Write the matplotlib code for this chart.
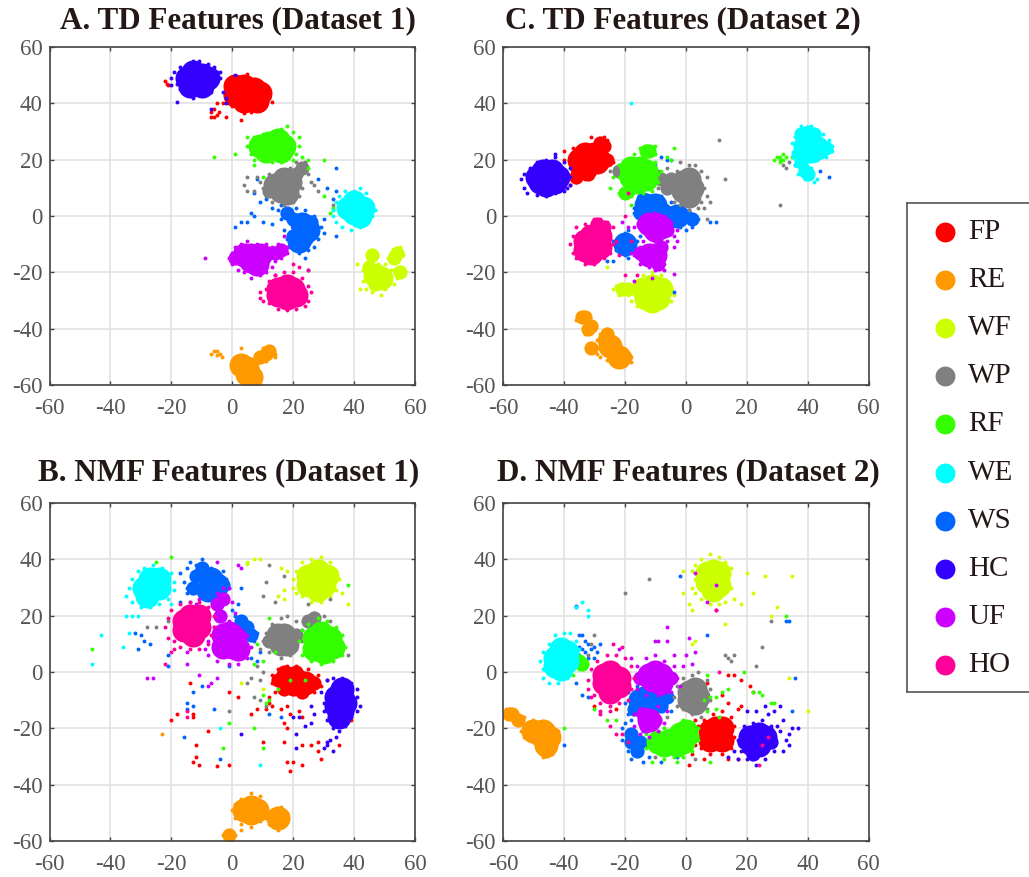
import matplotlib
matplotlib.use('Agg')
import matplotlib.pyplot as plt

labels = ['FP', 'RE', 'WF', 'WP', 'RF', 'WE', 'WS', 'HC', 'UF', 'HO']
colors = ['#ff0000', '#ff9900', '#ccff00', '#808080', '#33ff00',
          '#00ffff', '#0066ff', '#3300ff', '#cc00ff', '#ff0099']
ticks = [-60, -40, -20, 0, 20, 40, 60]

# panel A, values: core = dense part, lobe = small dense part, dots = edge and strays
a_fp_core = [(1, 43), (4, 46), (7, 45), (4, 41), (8, 41), (1, 46), (5, 43.5), (9, 43.5)]
a_fp_dots = [(-2, 44), (-1, 47), (1, 48), (3, 49), (5, 50.5), (7, 48), (9, 47), (11, 45), (12, 42), (13, 40.5), (10, 39),
             (8, 38), (6, 37), (4, 36.5), (2, 38), (0, 39), (-1, 41), (-7, 37), (-6, 35), (-5, 36), (-7, 35), (-6, 38),
             (-4.5, 37), (-3, 40), (-5, 40), (-2, 35), (-22, 48), (-21.5, 47), (-21, 46.5), (3, 34)]
a_re_core = [(3, -53), (5, -54), (5, -56), (6, -57)]
a_re_lobe = [(11, -49), (9, -50), (12, -48)]
a_re_dots = [(-7, -49), (-6, -48), (-5, -48), (-4, -49), (-3.5, -50), (-5, -49.5), (1, -52), (0, -53), (1, -50), (2, -56), (4, -59), (6, -60),
             (8, -60), (9, -57), (9, -52), (9, -49), (10, -47), (13, -47), (14, -49), (14, -50), (11, -51.5), (3, -47)]
a_wf_core = [(47, -21), (49, -22)]
a_wf_lobe = [(45, -18), (47, -24), (54, -13), (53, -15), (55, -20), (46, -14)]
a_wf_dots = [(41, -17), (43, -19), (43, -23), (42, -26), (44, -26), (46, -27), (49, -28), (50, -26), (51, -22), (52, -19), (50, -17), (46, -15),
             (45, -14), (47, -14), (51, -15), (52, -13), (55, -11), (56, -14), (55, -18), (56, -20), (54, -22), (53, -19), (53, -24), (48, -17)]
a_wp_core = [(14, 11), (17, 13), (19, 12), (16, 9), (18, 8)]
a_wp_lobe = [(23, 17), (21, 15), (12, 9)]
a_wp_dots = [(10, 10), (9, 12), (8, 14), (5, 14), (5, 9), (7, 9), (11, 7), (13, 5), (17, 4), (20, 5), (22, 7), (23, 10), (26, 12), (27, 11),
             (25, 15), (24, 19), (21, 19), (19, 17), (15, 16), (12, 15), (33, 4), (28, 9), (4, 11)]
a_rf_core = [(9, 25), (12, 26), (15, 27), (17, 25), (14, 24), (11, 23), (16, 23)]
a_rf_dots = [(5, 25), (5, 28), (7, 28), (10, 29), (13, 30), (16, 31), (18, 32), (20, 30), (22, 28), (22, 25), (21, 22), (23, 21), (25, 20), (20, 20),
             (16, 19), (13, 19), (10, 20), (7, 20), (6, 22), (7, 18), (1, 22), (-6, 21), (30, 20), (10, 14), (25, 17), (30, 7), (33, 3), (32, 1), (33, 2)]
a_we_core = [(38, 3), (40, 5), (43, 3), (40, 1), (42, 0)]
a_we_dots = [(33, 2), (34, 5), (35, 7), (37, 9), (40, 9), (42, 10), (44, 8), (45, 5), (46, 2), (47, 2), (46, 0), (44, -3), (42, -4), (39, -5), (36, -4), (34, -2), (33, 0)]
a_ws_core = [(23, -3), (25, -5), (23, -7), (22, -9)]
a_ws_lobe = [(18, 1), (20, -1), (26, -2), (20, -7)]
a_ws_dots = [(16, -1), (15, 2), (13, 3), (16, 4), (19, 5), (21, 3), (24, 2), (27, 0), (30, -1), (29, -4), (30, -6), (28, -8), (27, -11), (25, -12), (22, -13),
             (19, -11), (18, -8), (17, -5), (13, -3), (7, 8), (9, 5), (7, 0), (5, -2), (3, -2), (1, -4), (10, -2), (34, 17), (31, 10), (34, 9), (34, -7), (11, 6),
             (8, 13), (11, 9), (12, 12), (28, 13), (33, 6), (24, -15), (25, -19), (6, 1)]
a_hc_core = [(-15, 49), (-13, 51), (-10, 50), (-8, 49), (-12, 47), (-10, 46), (-14, 46)]
a_hc_dots = [(-20, 49), (-19, 51), (-17, 53), (-13, 55), (-11, 55), (-8, 54), (-6, 53), (-5, 51), (-4, 51), (-4, 49), (-6, 46), (-7, 44), (-10, 43), (-13, 42), (-15, 43), (-17, 45),
             (-18, 47), (-20, 46.5), (-18, 40.5), (-3, 44), (-2, 42), (-2, 40), (1, 50), (-7, 38)]
a_uf_core = [(4, -14), (6, -14), (9, -14), (6, -16), (8, -17)]
a_uf_lobe = [(16, -12), (14, -13), (12, -13), (1, -15)]
a_uf_dots = [(-1, -15), (0, -13), (1, -11), (3, -10), (5, -9), (8, -10), (11, -10), (13, -11), (15, -10), (18, -11), (18, -13), (16, -15), (14, -16), (13, -18),
             (11, -20), (9, -21), (6, -22), (4, -20), (2, -19), (0, -17), (-9, -15), (14, -21), (16, -23), (17, -7)]
a_ho_core = [(15, -26), (18, -25), (20, -26), (15, -28), (18, -29), (21, -28)]
a_ho_dots = [(9, -29), (9, -27), (11, -26), (12, -23), (14, -21), (17, -20), (20, -20), (23, -22), (25, -25), (26, -27), (25, -30), (24, -32), (21, -33), (18, -33.5), (15, -33), (12, -31), (10, -30), (22, -18), (25, -19), (20, -17)]

# panel B
b_fp_core = [(18, -2), (21, -3), (24, -4)]
b_fp_lobe = [(15, -3), (27, -4), (20, -6), (23, -7), (17, -6), (17, 0), (21, 0)]
b_fp_dots = [(13, -1), (13, -4), (15, 1), (18, 2), (21, 2), (25, 1), (28, -1), (31, -3), (29, -5), (27, -7), (24, -8), (14, -7), (12, -9), (13, -12), (11, -13), (16, -13), (18, -12), (19, -15), (22, -14),
             (23, -16), (17, -18), (18, -20), (12, -11), (8, -13), (6, -15), (10, -25), (17, -25), (26, -26), (28, -25), (23, -26), (20, -32), (18, -32), (19, -35), (23, -33), (29, -31), (-14, -4), (-13, -32), (-12, -30), (-11, -33), (-5, -33.5), (-1, -33), (-12, -26), (-8, -21), (-20, -17), (-18, -15), (-13, -15), (-13, -16), (-1, -7), (2, -9), (39, -17), (35, -26), (28, -28)]
b_re_core = [(4, -49), (6, -48), (8, -49), (6, -50), (15, -52)]
b_re_dots = [(0, -49), (1, -47), (3, -45), (6, -43), (9, -44), (10, -47), (11, -50), (9, -53), (6, -55), (3, -54), (1, -52), (11, -52), (13, -49), (16, -48), (18, -50), (18, -53), (15, -56), (12, -54), (-3, -58), (-1, -60), (-1, -57), (1, -58), (-2, -59), (0, -60), (3, -56), (-23, -22)]
b_re_lobe = [(-1, -58)]
b_wf_core = [(25, 34), (28, 36), (31, 34), (27, 32), (30, 31), (25, 31), (28, 29)]
b_wf_dots = [(20, 33), (20, 30), (21, 36), (23, 39), (26, 40), (29, 41), (32, 39), (34, 36), (35, 33), (34, 29), (32, 27), (29, 25), (26, 25), (23, 27), (21, 28), (16, 37), (18, 36), (17, 29), (15, 27), (17, 26), (5, 39), (7, 40), (9, 40), (38, 24), (36, 28), (5, 38.5), (3, -4), (10, -6)]
b_wp_core = [(15, 13), (17, 13), (18, 10), (16, 10)]
b_wp_lobe = [(21, 13), (12, 11), (25, 18), (27, 19)]
b_wp_dots = [(10, 11), (11, 14), (13, 17), (16, 19), (18, 20), (21, 18), (23, 15), (25, 19), (27, 21), (30, 20), (32, 18), (23, 11), (21, 8), (19, 6), (16, 5), (12, 7), (9, 8), (8, 2), (10, 0), (6, -2), (5, -4), (9, -3), (7, -9), (9, -10), (11, -12), (10, 27), (11, 32), (12, 38), (-1, -14), (-21, 18), (17, 34), (25, 24), (-28, 16), (-25, 16), (38, 6), (32, 26), (14, 25)]
b_rf_core = [(27, 12), (29, 14), (32, 12), (29, 10), (27, 8), (30, 7), (33, 9)]
b_rf_dots = [(22, 11), (23, 15), (25, 17), (28, 19), (31, 18), (34, 16), (36, 13), (37, 9), (36, 6), (33, 4), (29, 3), (26, 4), (23, 6), (14, 7), (10, 4), (8, 10), (12, 19), (7, 3), (-20, 41), (-25, 39), (-46, 8), (-29, 24), (-3, -27), (-1, -18), (10, -27), (7, -20), (10, -8), (11, -11), (12, -10), (38, 31), (15, -6), (19, -3), (24, -3)]
b_we_core = [(-29, 30), (-27, 33), (-24, 33), (-27, 30), (-24, 30), (-28, 27)]
b_we_dots = [(-35, 27), (-34, 30), (-33, 33), (-31, 36), (-29, 37), (-26, 38), (-23, 37), (-20, 35), (-19, 32), (-19, 29), (-21, 26), (-24, 24), (-27, 23), (-30, 23), (-33, 25), (-35, 20), (-33, 20), (-31, 20), (-34, 14), (-36, 9), (-46, 3), (-43, 13), (-20, 24), (9, -33), (-4, -20)]
b_ws_core = [(-7, 33), (-5, 31), (-8, 29)]
b_ws_lobe = [(-12, 34), (-10, 37), (-13, 30), (-3, 31), (3, 18), (5, 16), (6, 13)]
b_ws_dots = [(-17, 35), (-15, 37), (-14, 39), (-12, 38), (-10, 40), (-7, 37), (-3, 36), (-2, 33), (-1, 30), (-16, 32), (-15, 30), (-15, 28), (-17, 25), (-14, 25), (0, 22), (1, 20), (3, 18), (4, 15), (5, 17), (6, 13), (7, 11), (8, 14), (9, 7), (5, 10), (6, 5), (8, 4), (2, 24), (3, 30),
             (-32, 14), (-30, 13), (-31, 8), (-29, 11), (-27, 10), (-21, 6), (-21, 2), (-1, 2), (-15, -11), (-13, -12), (-15, -13), (-16, -23), (-6, -13), (-4, -31), (-10, -5), (-13, -7), (12, -15), (16, -16)]
b_hc_core = [(34, -9), (36, -9), (37, -11), (34, -12), (36, -14), (36, -6), (35, -16)]
b_hc_dots = [(29, -7), (30, -11), (30, -14), (31, -17), (33, -20), (35, -21), (37, -19), (39, -16), (41, -14), (42, -12), (41, -9), (41, -6), (39, -4), (36, -2), (33, -2), (31, -3), (32, -24), (31, -26), (34, -23), (33, -28), (30, -27), (31, -25), (26, -12), (27, -15), (26, -18), (24, -19), (21, -22), (22, -16), (20, -16), (21, -27), (3, -22)]
b_uf_core = [(-3, 13), (-1, 14), (1, 12), (-3, 9), (0, 9), (2, 8)]
b_uf_lobe = [(-3, 26), (-5, 24), (-4, 20)]
b_uf_dots = [(-9, 8), (-8, 11), (-6, 16), (-4, 20), (-1, 18), (2, 16), (5, 13), (6, 9), (5, 5), (2, 3), (-1, 3), (-5, 4), (-8, 6), (-6, 23), (-5, 28), (-3, 30), (-1, 30), (0, 25), (1, 21), (-11, 26), (-12, 24), (-28, -2), (-26, -2), (-5, -2), (-7, -4), (-8, -5), (-11, -1), (-15, 7), (-15, 3), (2, 38), (3, 37), (-5, 39)]
b_ho_core = [(-16, 18), (-14, 20), (-11, 20), (-16, 15), (-14, 16), (-11, 16), (-13, 13)]
b_ho_dots = [(-22, 16), (-21, 19), (-20, 22), (-17, 24), (-14, 25), (-11, 25), (-8, 23), (-6, 20), (-6, 16), (-7, 13), (-8, 10), (-11, 8), (-14, 8), (-17, 9), (-19, 11), (-21, 12), (-20, 7), (-19, 8), (-22, 3), (-15, -14), (-15, -16)]

# panel C
c_fp_core = [(-35, 20), (-33, 22), (-30, 22), (-34, 17), (-32, 19), (-29, 19)]
c_fp_lobe = [(-28, 26), (-27, 25), (-26, 20), (-36, 14), (-32, 15)]
c_fp_dots = [(-40, 20), (-40, 23), (-37, 24), (-34, 25), (-31, 28), (-29, 25), (-27, 24), (-26, 22), (-25, 20), (-24, 19), (-27, 18), (-30, 15), (-33, 13), (-36, 12), (-38, 11), (-39, 14), (-37, 15), (-26, 27), (-27, 28)]
c_re_core = [(-25, -46), (-22, -50)]
c_re_lobe = [(-34, -36), (-33, -36), (-32, -40), (-31, -39), (-27, -44), (-26, -42), (-31, -47), (-24, -48), (-20, -50)]
c_re_dots = [(-36, -37), (-35, -35), (-33, -35), (-33, -42), (-30, -38), (-31, -47), (-32, -46.5), (-29, -47), (-29, -44), (-28, -42), (-26, -40), (-25, -42), (-23, -45), (-20, -48), (-18, -50), (-18, -52), (-20, -53), (-23, -52), (-26, -51), (-28, -50), (-29, -49)]
c_wf_core = [(-14, -26), (-11, -25), (-8, -26), (-13, -29), (-11, -28), (-9, -29), (-11, -30)]
c_wf_lobe = [(-21, -26), (-19, -26)]
c_wf_dots = [(-18, -27), (-18, -30), (-16, -23), (-14, -21), (-11, -20), (-8, -21), (-6, -23), (-5, -26), (-4, -28), (-5, -30), (-7, -32), (-10, -33.5), (-13, -33), (-16, -32), (-24, -26), (-23, -25), (-21, -24), (-19, -24), (-18, -25), (-22, -28), (-19, -28), (-26, -18)]
c_wp_core = [(-1, 12), (1, 13), (2, 10), (-1, 9), (1, 7)]
c_wp_lobe = [(-5, 13), (-8, 13), (-6, 10), (-22, 16)]
c_wp_dots = [(-10, 12), (-9, 16), (-6, 17), (-3, 16), (-2, 19), (1, 18), (3, 18), (5, 16), (7, 14), (6, 10), (7, 7), (5, 5), (4, 3), (1, 2), (-2, 4), (-4, 5), (-7, 9), (-9, 10), (-23, 15), (-21, 16), (-19, 14), (-22, 18), (-20, 15), (-25, 16), (8, 5), (6, 3), (7, -1), (11, 27), (13, 13), (31, 4), (32, 18), (34, 19), (33, 17)]
c_rf_core = [(-18, 17), (-15, 17), (-13, 16), (-18, 14), (-15, 14), (-13, 13), (-16, 12)]
c_rf_lobe = [(-13, 23), (-12, 23), (-20, 8), (-19, 9)]
c_rf_dots = [(-22, 14), (-22, 18), (-20, 20), (-17, 22), (-14, 21), (-10, 19), (-9, 15), (-9, 12), (-11, 9), (-14, 8), (-18, 7), (-22, 8), (-15, 24), (-13, 25), (-10, 25), (-10, 22), (-25, 10), (-24, 14), (-6, 21), (-5, 20), (-4, 24), (-18, 4), (-8, 16), (29, 20), (31, 19), (30, 21), (32, 22), (33, 21), (32, 20), (31, 21), (31, 20), (35, 21), (36, 25)]
c_we_core = [(39, 25), (41, 26), (43, 24), (41, 23)]
c_we_lobe = [(39, 16), (40, 15), (40, 30), (38, 29), (42, 29), (46, 24), (37, 22), (38, 19)]
c_we_dots = [(35, 26), (36, 28), (38, 32), (41, 32), (42, 28), (45, 29), (47, 27), (48, 25), (48, 23), (46, 21), (43, 20), (41, 17), (41, 14), (39, 13), (37, 15), (36, 18), (36, 22), (42, 12), (43, 13), (-18, 40)]
c_ws_core = [(-13, 4), (-10, 4), (-3, 0), (-20, -10)]
c_ws_lobe = [(-7, 2), (-5, 1), (0, 0), (2, -1), (-15, 1), (-14, 6)]
c_ws_dots = [(-17, 3), (-15, 6), (-12, 7), (-8, 7), (-5, 5), (-2, 3), (1, 2), (3, 0), (4, -1), (2, -4), (0, -5), (-2, -4), (-4, -3), (-12, 1), (-17, 1), (-19, -5), (-20, -6), (-24, -9), (-23, -12), (-20, -14), (-19, -15), (-16, -13), (-16, -9), (-15, -7), (-18, -7), (-24, -16), (-26, -16),
             (8, -2), (10, -2), (-8, 21), (-6, 20), (-5, 20), (-12, 17), (-10, 18), (37, 19), (38, 18), (36, 18), (39, 19), (42, 21), (43, 24), (41, 21), (47, 14), (44, 16), (-3, 9), (-4, -27)]
c_hc_core = [(-49, 14), (-47, 16), (-44, 16), (-42, 14), (-48, 12), (-46, 13), (-43, 12), (-46, 11)]
c_hc_dots = [(-54, 13), (-53, 15), (-51, 17), (-49, 19), (-46, 20), (-43, 21), (-40, 19), (-38, 17), (-38, 14), (-38, 11), (-40, 9), (-43, 8), (-46, 7), (-49, 7.5), (-52, 8), (-53, 10), (-43, 22), (-39, 10)]
c_uf_core = [(-12, -3), (-10, -3), (-8, -4), (-10, -5), (-12, -14), (-10, -14)]
c_uf_lobe = [(-6, -5), (-14, -3), (-15, -13), (-9, -17), (-8, -11)]
c_uf_dots = [(-17, -4), (-15, -1), (-13, 0), (-10, 1), (-7, 0), (-5, -2), (-3, -5), (-4, -7), (-6, -9), (-8, -8), (-10, -9), (-7, -12), (-8, -15), (-9, -17), (-10, -19), (-12, -18), (-15, -17), (-17, -14), (-18, -13), (-15, -11), (-14, -9), (-4, -20.5), (-7, -17), (-7, -19), (-21, -2), (-19, -4), (-17, -23), (-11, -22), (-3, -9), (-4, -11)]
c_ho_core = [(-33, -9), (-31, -7), (-28, -7), (-33, -12), (-31, -11), (-28, -11), (-31, -13)]
c_ho_lobe = [(-27, -4), (-29, -3)]
c_ho_dots = [(-38, -10), (-37, -7), (-36, -4), (-33, -3), (-30, -1), (-28, -1), (-26, -2), (-24, -4), (-25, -8), (-24, -10), (-25, -13), (-27, -15), (-30, -17), (-33, -17), (-36, -15), (-37, -13), (-23, -9), (-22, -14), (-18, -9), (-20, -21), (-16, -21), (-19, 8), (-20, 0)]

# panel D
d_fp_core = [(8, -21), (10, -20), (12, -20), (8, -24), (11, -23), (12, -24)]
d_fp_dots = [(4, -23), (4, -19), (6, -17), (9, -15), (12, -14), (15, -16), (16, -19), (16, -23), (15, -27), (12, -29), (8, -29), (5, -27), (3, -17), (2, -18), (3, -26), (1, -33), (2, -29), (6, -31), (14, -31), (17, -31), (19, -28), (17, -13), (18, -12), (18, -3), (14, -1), (16, -1), (21, -5), (22, -7), (-23, -13), (-22, -8), (-25, -10), (-30, -12), (12, -8), (14, -11), (7, -4)]
d_re_core = [(-50, -21), (-47, -21), (-47, -23), (-45, -23), (-46, -26)]
d_re_lobe = [(-57, -15), (-58, -15), (-55, -17), (-46, -28)]
d_re_dots = [(-60, -15), (-59, -13), (-58, -13), (-56, -14), (-55, -16), (-53, -16), (-52, -18), (-54, -18), (-50, -17), (-47, -18), (-44, -19), (-42, -21), (-42, -24), (-43, -27), (-44, -29), (-47, -30), (-49, -27), (-50, -25), (-53, -23), (-54, -21), (-53, -19)]
d_wf_core = [(7, 35), (9, 36), (11, 35), (7, 32), (9, 33), (11, 31), (9, 29)]
d_wf_dots = [(2, 36), (3, 33), (2, 30), (3, 28), (5, 26), (8, 24), (11, 24), (13, 25), (16, 26), (18, 24), (15, 30), (14, 34), (15, 37), (13, 39), (11, 41), (8, 42), (5, 40), (3, 38), (1, 24), (2, 22), (-1, 28), (20, 35), (26, 34), (35, 34), (22, 28), (30, 23), (28, 20), (13, 17), (-1, 36), (34, -2), (40, -14), (3, 11), (2, 10)]
d_wp_core = [(1, -7), (3, -6), (4, -9), (1, -10), (3, -11)]
d_wp_dots = [(-4, -9), (-3, -5), (-1, -2), (2, -1), (4, 0), (7, -3), (8, -6), (8, -10), (7, -13), (5, -16), (2, -15), (-1, -13), (-3, -12), (-6, -16), (-9, -28), (-10, -30), (-7, -29), (3, -31), (-12, 33), (-20, 28), (25, 9), (28, 18), (13, 6), (14, 5), (16, 6), (15, 4), (23, 2), (-30, 13), (-31, 10), (-32, 6), (-7, -20)]
d_rf_core = [(-7, -26), (-5, -24), (-2, -22), (0, -21), (-3, -26), (-1, -25), (-9, -25)]
d_rf_lobe = [(-34, 3), (-35, 4), (2, -23)]
d_rf_dots = [(-13, -27), (-13, -22), (-10, -22), (-7, -20), (-4, -19), (-1, -17), (2, -18), (4, -20), (4, -24), (2, -28), (-1, -30), (-4, -30), (-7, -31), (-11, -32), (-3, -32), (-34, 3), (-34, 4), (-35, 3), (-34, 2), (-33, 3), (-35, 1), (-37, -1), (-39, 2), (-40, -20),
             (6, -10), (8, -9), (10, -9), (12, -7), (14, -6), (7, -14), (10, -13), (11, -16), (19, 0), (22, -7), (24, -7), (25, -8), (28, -11), (29, -11), (8, -32), (-26, -17), (-23, -17), (-30, -13), (33, 20), (7, -1)]
d_we_core = [(-43, 5), (-41, 8), (-39, 7), (-42, 5), (-39, 4), (-43, 2), (-41, 1)]
d_we_dots = [(-48, 4), (-47, 7), (-45, 10), (-43, 13), (-40, 14), (-38, 14), (-36, 11), (-35, 8), (-36, 5), (-38, 1), (-39, -2), (-42, -4), (-45, -4), (-47, -2), (-47, 1), (-34, 25), (-32, 22), (-32, 20), (-36, 23)]
d_ws_core = [(-15, -10), (-13, -9), (-10, -10)]
d_ws_lobe = [(-18, -25), (-16, -28), (-18, -22), (-15, -25), (-8, -12), (-17, -13), (-6, -9), (-12, -6)]
d_ws_dots = [(-20, -11), (-19, -7), (-16, -5), (-13, -4), (-10, -6), (-7, -8), (-5, -10), (-5, -14), (-19, -15), (-20, -18), (-21, -20), (-21, -24), (-19, -28), (-18, -31), (-14, -32), (-12, -30), (-13, -26), (-14, -21), (-18, -17), (-3, -30), (-8, -32),
             (-36, 23), (-36, 23.5), (-35, 13), (-34, 13), (-35, 9), (-34, 8), (-33, 11), (-32, 10), (-31, 8), (-30, 9), (-29, 7), (-28, 10), (-33, 7), (-35, 6), (-36, 5), (-32, 5), (-30, 5), (-36, -4), (-34, -8), (-32, -9), (33, 18), (34, 18), (36, -2), (35, -14), (7, 13), (-2, 34), (-41, 4), (-40, -26), (3, -10)]
d_hc_core = [(21, -23), (24, -22), (26, -23), (22, -26), (24, -26)]
d_hc_lobe = [(19, -25), (22, -29), (28, -25)]
d_hc_dots = [(17, -24), (18, -28), (20, -31), (23, -33), (26, -31), (29, -28), (32, -28), (34, -26), (33, -24), (31, -21), (28, -19), (25, -17), (22, -18), (19, -19), (30, -19), (32, -17), (27, -15), (29, -14), (31, -12), (26, -12), (34, -22), (37, -20), (35, -20), (16, -28), (17, -31), (14, -30), (20, -14), (23, -14)]
d_uf_core = [(-12, -1), (-10, 0), (-8, -1), (-11, -3), (-8, -4), (-12, -17)]
d_uf_lobe = [(-10, -17), (-13, -19), (-14, -15), (-5, -2), (-15, -2)]
d_uf_dots = [(-17, -2), (-16, 2), (-13, 5), (-10, 6), (-7, 4), (-4, 2), (-3, -2), (-2, -5), (-5, -7), (-9, -8), (-13, -8), (-16, -6), (-17, -15), (-17, -19), (-15, -22), (-12, -23), (-9, -21), (-7, -18), (-6, -14), (-9, -12), (-15, -13), (-6, 16), (-10, 11), (-9, 11), (-6, 11), (1, 12), (3, 7), (-1, 2), (-4, 6), (0, 6), (2, 3),
             (10, 31), (3, 35), (7, 25), (10, 22), (-22, 8), (-18, 5)]
d_ho_core = [(-27, -1), (-25, 0), (-22, -2), (-27, -4), (-24, -4), (-22, -5), (-25, -7)]
d_ho_dots = [(-32, -3), (-31, 1), (-29, 4), (-26, 6), (-23, 6), (-20, 5), (-18, 2), (-17, -2), (-18, -6), (-19, -10), (-22, -11), (-25, -12), (-28, -11), (-30, -8), (-32, -6), (-25, -14), (-28, -15), (-25, -19), (-23, -22), (-21, -22), (-19, -25), (-24, 10), (-21, 9), (25, -26), (27, -23), (-28, -14), (24, -33), (-31, -9), (11, 0), (10, 22)]

# draw order, WS goes under WP and RF
order = ['FP', 'RE', 'WF', 'WS', 'WP', 'RF', 'WE', 'HC', 'UF', 'HO']
a_core = [a_fp_core, a_re_core, a_wf_core, a_ws_core, a_wp_core, a_rf_core, a_we_core, a_hc_core, a_uf_core, a_ho_core]
a_lobe = [[], a_re_lobe, a_wf_lobe, a_ws_lobe, a_wp_lobe, [], [], [], a_uf_lobe, []]
a_dots = [a_fp_dots, a_re_dots, a_wf_dots, a_ws_dots, a_wp_dots, a_rf_dots, a_we_dots, a_hc_dots, a_uf_dots, a_ho_dots]
b_core = [b_fp_core, b_re_core, b_wf_core, b_ws_core, b_wp_core, b_rf_core, b_we_core, b_hc_core, b_uf_core, b_ho_core]
b_lobe = [b_fp_lobe, b_re_lobe, [], b_ws_lobe, b_wp_lobe, [], [], [], b_uf_lobe, []]
b_dots = [b_fp_dots, b_re_dots, b_wf_dots, b_ws_dots, b_wp_dots, b_rf_dots, b_we_dots, b_hc_dots, b_uf_dots, b_ho_dots]
c_core = [c_fp_core, c_re_core, c_wf_core, c_ws_core, c_wp_core, c_rf_core, c_we_core, c_hc_core, c_uf_core, c_ho_core]
c_lobe = [c_fp_lobe, c_re_lobe, c_wf_lobe, c_ws_lobe, c_wp_lobe, c_rf_lobe, c_we_lobe, [], c_uf_lobe, c_ho_lobe]
c_dots = [c_fp_dots, c_re_dots, c_wf_dots, c_ws_dots, c_wp_dots, c_rf_dots, c_we_dots, c_hc_dots, c_uf_dots, c_ho_dots]
d_core = [d_fp_core, d_re_core, d_wf_core, d_ws_core, d_wp_core, d_rf_core, d_we_core, d_hc_core, d_uf_core, d_ho_core]
d_lobe = [[], d_re_lobe, [], d_ws_lobe, [], d_rf_lobe, [], d_hc_lobe, d_uf_lobe, []]
d_dots = [d_fp_dots, d_re_dots, d_wf_dots, d_ws_dots, d_wp_dots, d_rf_dots, d_we_dots, d_hc_dots, d_uf_dots, d_ho_dots]

W, H = 1029, 877
plt.rcParams['font.family'] = ['Liberation Serif', 'DejaVu Serif']
plt.rcParams['axes.unicode_minus'] = False


def make_axes(fig, left, top, right, bottom):
    return fig.add_axes([left / W, 1 - bottom / H, (right - left) / W, (bottom - top) / H])


def draw_points(ax, pts, c, size):
    if pts:
        ax.scatter([p[0] for p in pts], [p[1] for p in pts], s=size, color=c, linewidths=0, zorder=3)


def draw_panel(fig, box, title, title_x, title_y, core, lobe, dots):
    ax = make_axes(fig, *box)
    for i, name in enumerate(order):
        c = colors[labels.index(name)]
        draw_points(ax, core[i], c, 300)
        draw_points(ax, lobe[i], c, 105)
        draw_points(ax, dots[i], c, 8)
    ax.set_xlim(-60, 60)
    ax.set_ylim(-60, 60)
    ax.set_xticks(ticks)
    ax.set_yticks(ticks)
    ax.grid(True, color='#e2e2e2', linewidth=1.2)
    ax.set_axisbelow(True)
    ax.tick_params(direction='in', length=3, width=1, top=True, right=True,
                   labelsize=16.5, labelcolor='#555555', color='#444444', pad=5)
    ax.tick_params(axis='x', pad=9)
    for s in ax.spines.values():
        s.set_color('#444444')
        s.set_linewidth(1.2)
        s.set_zorder(5)
    fig.text(title_x / W, 1 - title_y / H, title, fontsize=22.4, fontweight='bold',
             color='#231815', ha='center', va='center')
    return ax


fig = plt.figure(figsize=(W / 100, H / 100), dpi=100)
draw_panel(fig, (49.5, 47, 415, 385), 'A. TD Features (Dataset 1)', 238, 21, a_core, a_lobe, a_dots)
draw_panel(fig, (49.5, 503, 415, 841), 'B. NMF Features (Dataset 1)', 229, 473, b_core, b_lobe, b_dots)
draw_panel(fig, (503, 47, 868.5, 385), 'C. TD Features (Dataset 2)', 683, 21, c_core, c_lobe, c_dots)
draw_panel(fig, (503, 503, 868.5, 841), 'D. NMF Features (Dataset 2)', 688, 473, d_core, d_lobe, d_dots)

# legend box runs off the right edge of the image
leg = make_axes(fig, 907, 203, 1040, 692)
leg.set_xlim(907, 1040)
leg.set_ylim(692, 203)
leg.set_xticks([])
leg.set_yticks([])
for s in leg.spines.values():
    s.set_color('#555555')
    s.set_linewidth(1.2)
for i, (name, c) in enumerate(zip(labels, colors)):
    y = 232 + i * 48.1
    leg.scatter([945], [y], s=205, color=c, linewidths=0)
    leg.text(968, y, name, fontsize=21, color='#231815', va='center', ha='left')

fig.savefig('out.png', dpi=100)
